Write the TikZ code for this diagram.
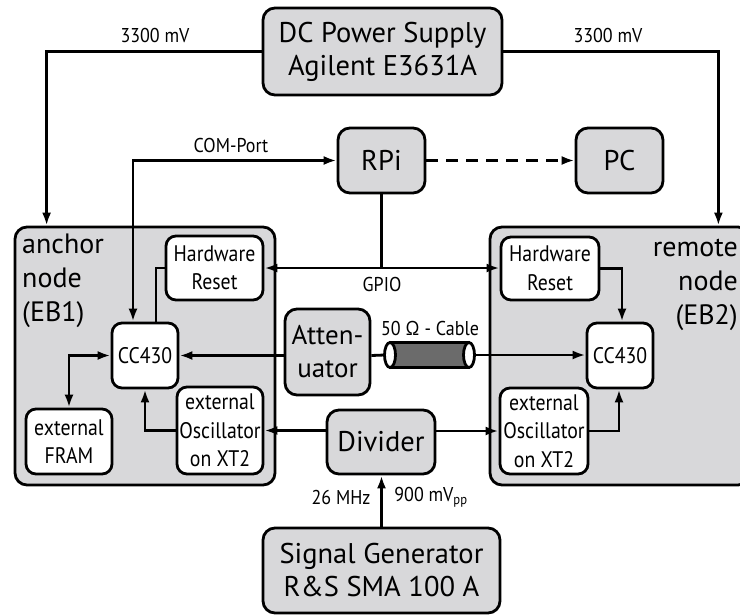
\documentclass[tikz,border=0pt]{standalone}
\usepackage{fontspec}
\setmainfont{PT Sans}
\newfontfamily\narrowfont[FakeStretch=0.88]{PT Sans}
\newfontfamily\tagfont[FakeStretch=0.9]{PT Sans}
\usetikzlibrary{positioning,arrows.meta}
\definecolor{boxgrey}{HTML}{D8D8DA}
\definecolor{cablegrey}{HTML}{6B6B6B}
\tikzset{
  unit/.style     = {draw, line width=2.8pt, fill=boxgrey, rounded corners=12pt,
                     align=center, inner sep=0pt, font=\fontsize{28.5}{33}\selectfont},
  part/.style     = {draw, line width=2.8pt, fill=white, rounded corners=10pt,
                     align=center, inner sep=0pt, font=\narrowfont\fontsize{22.5}{28.5}\selectfont},
  board/.style    = {draw, line width=2.8pt, fill=boxgrey, rounded corners=12pt, inner sep=0pt},
  boardname/.style= {inner sep=0pt, font=\fontsize{28}{34}\selectfont},
  tag/.style      = {inner sep=0pt, font=\tagfont\fontsize{20}{22}\selectfont},
  wire/.style     = {line width=2.8pt},
  flow/.style     = {-{Latex[length=13pt,width=9pt]}, line width=2.8pt},
  flowboth/.style = {{Latex[length=13pt,width=9pt]}-{Latex[length=13pt,width=9pt]}, line width=2.8pt},
}
\begin{document}
\begin{tikzpicture}[x=1pt,y=-1pt]
  \useasboundingbox (0,0) rectangle (740,614);
  \clip (0,0) rectangle (740,614);

  % evaluation boards
  \node[board, minimum width=260pt, minimum height=258pt] (anchorboard) at (145,356) {};
  \node[board, minimum width=260pt, minimum height=258pt] (remoteboard) at (620,356) {};
  \node[boardname, anchor=north west, align=left] (anchorname) at (22,234)
       {anchor\\node\\(EB1)};
  \node[boardname, anchor=north east, align=right] (remotename) at (738,239)
       {remote\\node\\(EB2)};

  % lab equipment
  \node[unit, minimum width=239pt, minimum height=87pt] (supply) at (382.5,51.5)
       {DC Power Supply\\Agilent E3631A};
  \node[unit, minimum width=87pt, minimum height=65pt] (rpi) at (381.5,160.5) {RPi};
  \node[unit, minimum width=87pt, minimum height=65pt] (pc) at (619.5,160.5) {PC};
  \node[unit, minimum width=85pt, minimum height=86pt, font=\fontsize{27}{33}\selectfont]
       (atten) at (327.5,352) {Atten-\\uator};
  \node[unit, minimum width=108pt, minimum height=64pt] (divider) at (381,442) {Divider};
  \node[unit, minimum width=237pt, minimum height=85pt] (siggen) at (381.5,570.5)
       {Signal Generator\\R\&S SMA 100 A};

  % parts on the boards
  \node[part, minimum width=97pt, minimum height=64pt] (resetA) at (214.5,268) {Hardware\\Reset};
  \node[part, minimum width=98pt, minimum height=63pt] (resetR) at (550,268.5) {Hardware\\Reset};
  \node[part, minimum width=66pt, minimum height=65pt] (cpuA) at (145,355.5) {CC430};
  \node[part, minimum width=66pt, minimum height=65pt] (cpuR) at (620,355.5) {CC430};
  \node[part, minimum width=86pt, minimum height=87pt] (oscA) at (220,430.5)
       {external\\Oscillator\\on XT2};
  \node[part, minimum width=88pt, minimum height=86pt] (oscR) at (544,431)
       {external\\Oscillator\\on XT2};
  \node[part, minimum width=86pt, minimum height=65pt] (fram) at (69,441.5)
       {external\\FRAM};

  % supply lines
  \draw[flow] (supply.west) -| ([xshift=33pt]anchorboard.north west);
  \draw[flow] (supply.east) -| ([xshift=-33pt]remoteboard.north east);
  \node[tag] (voltA) at (155,35) {3300 mV};
  \node[tag] (voltR) at (608,35) {3300 mV};

  % RPi links
  \draw[flowboth] (rpi.west) -| ([xshift=-12pt]cpuA.north);
  \node[tag] (comport) at (231,145) {COM-Port};
  \draw[flow, dashed, dash pattern=on 12pt off 8pt] (rpi.east) -- (pc.west);
  \draw[flowboth] (resetA.east) -- (resetA.east -| resetR.west);
  \draw[wire] (rpi.south) -- (rpi.south |- resetA.east);
  \node[tag] (gpio) at (382,284) {GPIO};
  \draw[wire] (resetA.west) -| ([xshift=11pt]cpuA.north);
  \draw[flow] (resetR.east) -| ([xshift=2pt]cpuR.north);

  % radio path with cable
  \coordinate (cableL) at (390,355);
  \coordinate (cableR) at (469,355);
  \draw[wire, fill=cablegrey] (390,342.5) rectangle (469,367.5);
  \draw[wire, fill=white] (cableL) ellipse [x radius=5.5, y radius=12.5];
  \draw[wire, fill=white] (cableR) ellipse [x radius=5.5, y radius=12.5];
  \node[tag] (cablename) at (430,328) {50 Ω - Cable};
  \draw[flow] (atten.west |- cpuA.east) -- (cpuA.east);
  \draw[wire] (atten.east |- cpuA.east) -- ([xshift=-5.5pt]cableL);
  \draw[flow] ([xshift=5.5pt]cableR) -- (cableR -| cpuR.west);

  % clock path
  \draw[flow] (divider.west |- oscA.east) -- (oscA.east);
  \draw[flow] (divider.east |- oscR.west) -- (oscR.west);
  \draw[flow] (oscA.west) -| (cpuA.south);
  \draw[flow] (oscR.east) -| ([xshift=-1pt]cpuR.south);
  \draw[flowboth] (cpuA.west) -| (fram.north);
  \draw[flow] (siggen.north) -- (siggen.north |- divider.south);
  \node[tag] (freq) at (341,497) {26 MHz};
  \node[tag] (ampl) at (431,497) {900 mV\textsubscript{pp}};
\end{tikzpicture}
\end{document}
